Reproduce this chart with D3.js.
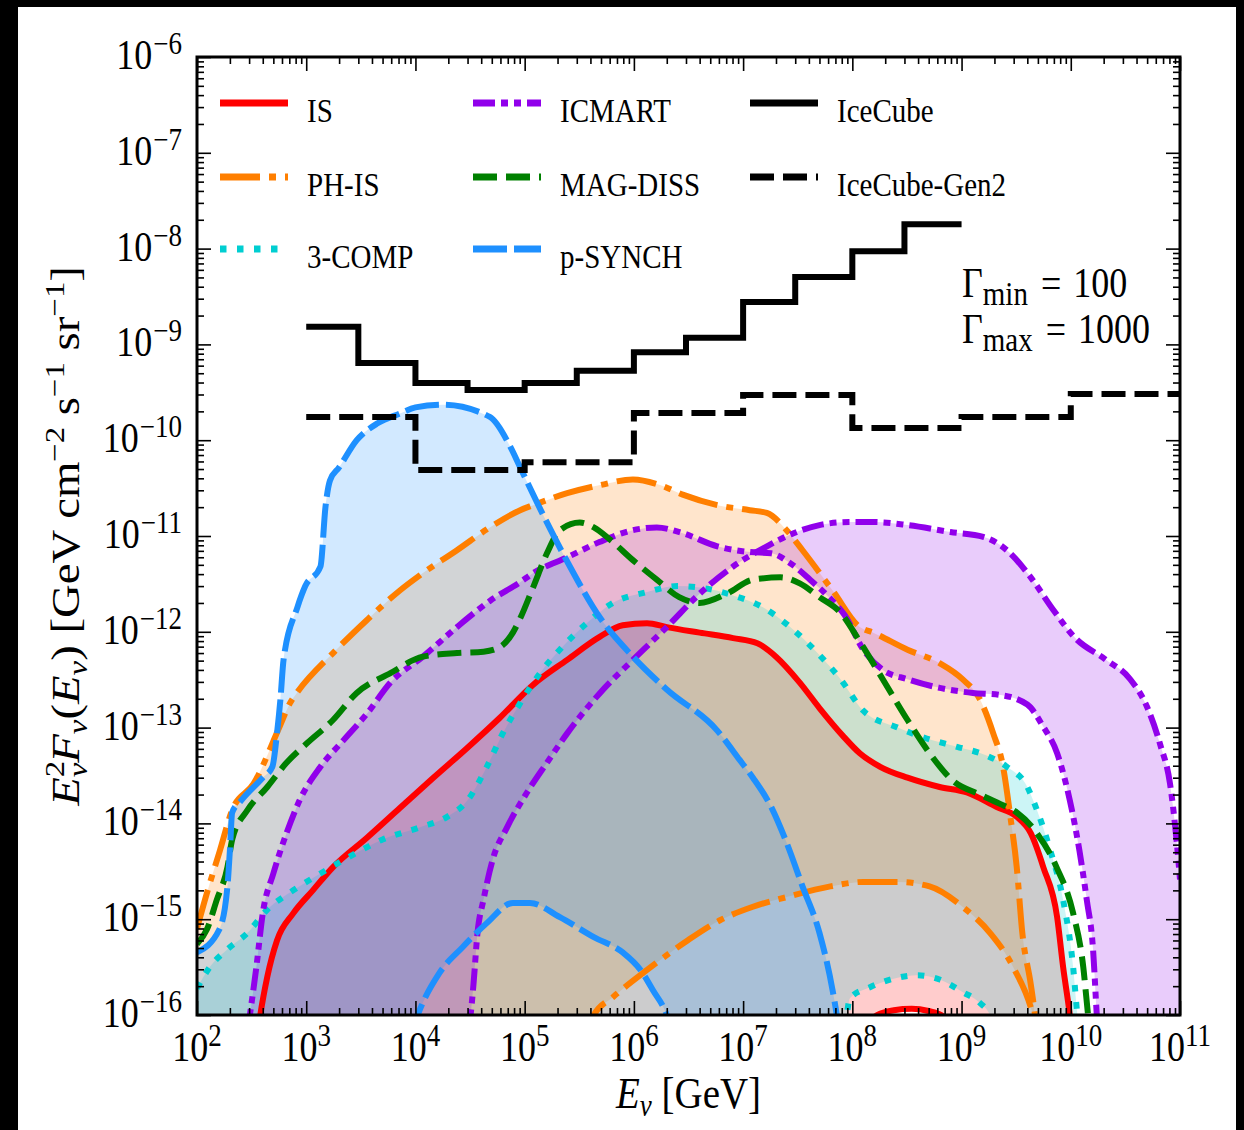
<!DOCTYPE html>
<html>
<head>
<meta charset="utf-8">
<script src="https://cdn.jsdelivr.net/npm/d3@7"></script>
<style>
  body { margin: 0; background: #000; }
  svg { display: block; }
  text { font-family: "Liberation Serif", "Times New Roman", serif; fill: #000; }
</style>
</head>
<body>
<div id="chart"></div>
<script>
// axis ranges
const xDomain = [1e2, 1e11];
const yDomain = [1e-16, 1e-6];
const xTickExp = [2, 3, 4, 5, 6, 7, 8, 9, 10, 11];
const yTickExp = [-16, -15, -14, -13, -12, -11, -10, -9, -8, -7, -6];
const minorMult = [2, 3, 4, 5, 6, 7, 8, 9];

// each curve: [E_nu (GeV), E^2 F (GeV cm^-2 s^-1 sr^-1)]
const isHigh = [[3.5e2, 5e-17], [3.8e2, 1e-16], [4.4e2, 2.5e-16], [5.4e2, 6.0e-16], [7.6e2, 1.15e-15], [1.15e3, 2.0e-15],
  [1.76e3, 3.5e-15], [3.6e3, 7.1e-15], [7.2e3, 1.45e-14], [1.45e4, 2.98e-14], [2.96e4, 6.1e-14], [5.9e4, 1.26e-13],
  [1.19e5, 2.79e-13], [2.45e5, 5.1e-13], [4.9e5, 8.9e-13], [7.9e5, 1.17e-12], [1.32e6, 1.23e-12],
  [2.0e6, 1.12e-12], [4.0e6, 9.8e-13], [8.1e6, 8.6e-13], [1.35e7, 7.6e-13], [2.0e7, 5.5e-13], [3.3e7, 2.95e-13],
  [5.0e7, 1.6e-13], [8.2e7, 8.2e-14], [1.17e8, 5.4e-14], [1.8e8, 3.9e-14], [3.2e8, 3.0e-14], [6.3e8, 2.4e-14],
  [1.12e9, 2.1e-14], [2.1e9, 1.48e-14], [3.2e9, 1.17e-14], [4.3e9, 7.9e-15], [5.6e9, 3.5e-15], [7.5e9, 1.05e-15],
  [8.5e9, 3.2e-16], [9.8e9, 1e-16], [1.05e10, 5e-17]];
const isLow = [[1.3e8, 8e-17], [1.7e8, 1e-16], [2.4e8, 1.12e-16], [3.5e8, 1.16e-16], [5e8, 1.1e-16], [6.5e8, 1e-16], [8e8, 8e-17]];

const phisHigh = [[1e2, 8e-16], [1.23e2, 1.86e-15], [1.62e2, 5.2e-15], [2.1e2, 1.38e-14], [3.3e2, 2.6e-14], [5.7e2, 1.02e-13],
  [7.1e2, 1.8e-13], [8.2e2, 2.3e-13], [1.76e3, 6.0e-13], [3.6e3, 1.33e-12], [7.2e3, 2.7e-12], [1.17e4, 4.1e-12],
  [2.4e4, 7.1e-12], [4.8e4, 1.23e-11], [9.1e4, 1.86e-11], [1.2e5, 2.1e-11], [2.45e5, 2.8e-11], [4.9e5, 3.4e-11],
  [9.8e5, 3.9e-11], [1.74e6, 3.4e-11], [2.8e6, 2.7e-11], [5.8e6, 2.1e-11], [1.15e7, 1.86e-11], [1.65e7, 1.74e-11],
  [2.5e7, 1.15e-11], [3.5e7, 7.1e-12], [6.6e7, 2.7e-12], [1.17e8, 1.12e-12], [1.55e8, 9.8e-13], [3.2e8, 6.5e-13],
  [6.3e8, 4.7e-13], [1.02e9, 3.2e-13], [1.48e9, 1.95e-13], [1.95e9, 8.7e-14], [2.4e9, 3.9e-14], [2.8e9, 1.17e-14],
  [3.2e9, 3.5e-15], [3.6e9, 7.2e-16], [4.3e9, 2.1e-16], [4.7e9, 1e-16], [5e9, 5e-17]];
const phisLow = [[3.5e5, 6e-17], [4.3e5, 1e-16], [6.5e5, 1.55e-16], [1.32e6, 2.95e-16], [3.1e6, 6.0e-16], [6.2e6, 9.8e-16],
  [1.23e7, 1.35e-15], [2.5e7, 1.7e-15], [6.3e7, 2.2e-15], [1.26e8, 2.45e-15], [2.6e8, 2.45e-15], [5.1e8, 2.2e-15],
  [1.02e9, 1.35e-15], [1.82e9, 7.2e-16], [2.95e9, 3.2e-16], [4.5e9, 1e-16], [5e9, 6e-17]];

const compHigh = [[1e2, 1.9e-16], [1.32e2, 3.2e-16], [1.88e2, 4.8e-16], [2.9e2, 7.2e-16], [4.4e2, 1.26e-15], [7.6e2, 2.0e-15],
  [1.35e3, 3.0e-15], [2.5e3, 4.5e-15], [5.0e3, 6.8e-15], [1.1e4, 9.1e-15], [1.95e4, 1.17e-14], [3.0e4, 1.74e-14],
  [4.5e4, 3.9e-14], [6.3e4, 8.7e-14], [9.1e4, 1.8e-13], [1.38e5, 3.7e-13], [2.2e5, 6.9e-13], [3.7e5, 1.23e-12],
  [6.4e5, 2.0e-12], [1.32e6, 2.6e-12], [2.5e6, 3.0e-12], [4.0e6, 2.9e-12], [8.1e6, 2.4e-12], [1.52e7, 1.8e-12],
  [2.7e7, 1.12e-12], [4.8e7, 6.0e-13], [7.8e7, 3.2e-13], [1.26e8, 1.5e-13], [2.6e8, 1.0e-13], [4.8e8, 7.7e-14],
  [9.1e8, 6.3e-14], [1.7e9, 5.1e-14], [2.6e9, 3.9e-14], [4.0e9, 2.4e-14], [4.9e9, 1.38e-14], [6.5e9, 5.2e-15],
  [8.5e9, 1.6e-15], [1.05e10, 3.2e-16], [1.15e10, 1e-16], [1.25e10, 5e-17]];
const compLow = [[8.3e7, 5e-17], [8.9e7, 1e-16], [9.5e7, 1.5e-16], [1.45e8, 1.95e-16], [2.6e8, 2.45e-16], [3.9e8, 2.6e-16],
  [6.3e8, 2.35e-16], [1.02e9, 1.74e-16], [1.48e9, 1.33e-16], [1.82e9, 1e-16], [2.1e9, 6e-17]];

const icmartLowG = [[2.8e2, 5e-17], [3.05e2, 1e-16], [3.5e2, 3.2e-16], [4.0e2, 1.15e-15], [5.0e2, 3.0e-15], [6.6e2, 7.9e-15],
  [8.7e2, 1.74e-14], [1.35e3, 3.9e-14], [2.2e3, 7.4e-14], [3.6e3, 1.4e-13], [5.9e3, 2.95e-13], [1.17e4, 5.5e-13],
  [2.4e4, 1.12e-12], [4.8e4, 2.1e-12], [9.1e4, 3.3e-12], [1.2e5, 4.1e-12], [2.45e5, 6.0e-12], [4.9e5, 8.7e-12],
  [9.8e5, 1.15e-11], [1.62e6, 1.23e-11], [2.8e6, 1.07e-11], [5.8e6, 7.8e-12], [1.15e7, 6.8e-12], [1.8e7, 6.6e-12],
  [2.7e7, 5.2e-12], [4.1e7, 3.5e-12], [6.6e7, 2.1e-12], [8.5e7, 1.5e-12], [1.26e8, 6.5e-13], [1.9e8, 4.0e-13],
  [3.2e8, 3.2e-13], [6.3e8, 2.6e-13], [1.27e9, 2.3e-13], [2.2e9, 2.2e-13], [4.0e9, 1.74e-13], [5.6e9, 1.02e-13],
  [7.5e9, 5.4e-14], [9.8e9, 1.74e-14], [1.2e10, 5.2e-15], [1.4e10, 1.6e-15], [1.6e10, 4.8e-16], [1.73e10, 1e-16],
  [1.8e10, 5e-17]];
const icmartHighG = [[2.9e4, 5e-17], [3.2e4, 1e-16], [3.4e4, 2.1e-16], [3.7e4, 7.2e-16], [4.2e4, 1.6e-15], [5.1e4, 4.2e-15],
  [6.9e4, 9.1e-15], [1.05e5, 2.1e-14], [1.6e5, 4.3e-14], [2.45e5, 8.7e-14], [4.9e5, 2.3e-13], [9.8e5, 5.1e-13],
  [2.0e6, 1.12e-12], [4.0e6, 2.5e-12], [8.1e6, 4.8e-12], [1.65e7, 7.8e-12], [2.9e7, 1.07e-11], [5.0e7, 1.3e-11],
  [9.5e7, 1.4e-11], [1.55e8, 1.4e-11], [3.2e8, 1.3e-11], [7.9e8, 1.1e-11], [1.58e9, 9.8e-12], [2.6e9, 7.1e-12],
  [4.3e9, 3.7e-12], [6.9e9, 1.7e-12], [1.1e10, 8.6e-13], [2.1e10, 5.1e-13], [3.5e10, 3.2e-13], [5.0e10, 1.64e-13],
  [6.6e10, 6.6e-14], [8.1e10, 2.6e-14], [9.6e10, 4.5e-15], [1e11, 2.6e-15]];

const magHigh = [[1e2, 5.5e-16], [1.23e2, 7.8e-16], [1.52e2, 1.6e-15], [1.9e2, 3.5e-15], [2.1e2, 6.8e-15], [2.9e2, 1.38e-14],
  [4.4e2, 2.4e-14], [6.6e2, 4.3e-14], [1.02e3, 6.9e-14], [1.76e3, 1.2e-13], [2.9e3, 2.3e-13], [5.9e3, 3.7e-13],
  [1.17e4, 5.5e-13], [2.4e4, 6.0e-13], [4.2e4, 6.2e-13], [5.9e4, 6.9e-13], [7.8e4, 9.8e-13], [9.1e4, 1.38e-12],
  [1.2e5, 2.95e-12], [1.6e5, 6.6e-12], [2.1e5, 1.15e-11], [3.2e5, 1.38e-11], [4.3e5, 1.23e-11], [6.1e5, 9.1e-12],
  [9.8e5, 5.6e-12], [1.62e6, 3.5e-12], [2.6e6, 2.3e-12], [4.0e6, 2.0e-12], [7.1e6, 2.5e-12], [1.23e7, 3.5e-12],
  [2.2e7, 3.7e-12], [3.3e7, 3.2e-12], [5.0e7, 2.3e-12], [7.8e7, 1.58e-12], [1.17e8, 7.9e-13], [1.9e8, 3.2e-13],
  [3.2e8, 1.2e-13], [5.1e8, 5.4e-14], [8.3e8, 2.8e-14], [1.48e9, 2.0e-14], [2.2e9, 1.62e-14], [3.2e9, 1.3e-14],
  [4.9e9, 7.9e-15], [7.4e9, 3.5e-15], [1.05e10, 1.16e-15], [1.3e10, 3.2e-16], [1.44e10, 1e-16], [1.55e10, 5e-17]];
const magLow = []; // second curve not visible, no band

const synchHigh = [[1e2, 4.5e-16], [1.6e2, 7.8e-16], [1.9e2, 2.2e-15], [2.0e2, 5.2e-15], [2.1e2, 1.3e-14], [2.5e2, 1.7e-14],
  [4.0e2, 3.0e-14], [4.9e2, 3.9e-14], [5.4e2, 8.7e-14], [5.8e2, 1.95e-13], [6.2e2, 5.1e-13], [8.3e2, 1.8e-12],
  [9.8e2, 3.0e-12], [1.35e3, 4.8e-12], [1.5e3, 2.0e-11], [1.65e3, 3.8e-11], [2.0e3, 5.2e-11], [2.9e3, 1.0e-10],
  [4.5e3, 1.5e-10], [7.2e3, 1.9e-10], [1.0e4, 2.2e-10], [1.8e4, 2.35e-10], [4.8e4, 1.75e-10], [7.4e4, 8.5e-11],
  [9.1e4, 5.2e-11], [1.5e5, 1.6e-11], [2.5e5, 5.2e-12], [4.9e5, 1.4e-12], [9.8e5, 5.5e-13], [2.0e6, 2.5e-13],
  [5.8e6, 9.3e-14], [9.3e6, 4.6e-14], [1.23e7, 3.0e-14], [1.8e7, 1.5e-14], [2.5e7, 6.3e-15], [3.5e7, 2.2e-15],
  [5.0e7, 7.2e-16], [6.6e7, 1.8e-16], [7.2e7, 1e-16], [7.8e7, 5e-17]];
const synchLow = [[9e3, 6e-17], [1.05e4, 1e-16], [1.66e4, 2.75e-16], [2.7e4, 5.1e-16], [4.5e4, 9.1e-16], [7.8e4, 1.48e-15],
  [1.12e5, 1.48e-15], [2.1e5, 1.05e-15], [4.3e5, 6.5e-16], [7.9e5, 4.5e-16], [1.15e6, 2.95e-16], [1.5e6, 1.8e-16],
  [2.0e6, 1e-16], [2.3e6, 6e-17]];

// sensitivity steps: bin edges and flux per bin
const iceCubeE = [1e3, 3e3, 1e4, 3e4, 1e5, 3e5, 1e6, 3e6, 1e7, 3e7, 1e8, 3e8, 1e9];
const iceCubeF = [1.53e-9, 6.4e-10, 3.95e-10, 3.34e-10, 3.95e-10, 5.3e-10, 8.3e-10, 1.17e-9, 2.77e-9, 5.06e-9, 9.4e-9, 1.8e-8];
const gen2E = [1e3, 1e4, 1e5, 1e6, 1e7, 1e8, 1e9, 1e10, 1e11];
const gen2F = [1.75e-10, 4.9e-11, 5.9e-11, 1.92e-10, 2.96e-10, 1.34e-10, 1.75e-10, 3.03e-10];

const seriesNames = ["IS", "PH-IS", "3-COMP", "ICMART", "MAG-DISS", "p-SYNCH", "IceCube", "IceCube-Gen2"];

// styling kept apart from the data
const styles = {
  "IS":           { color: "#ff0000", dash: null },
  "PH-IS":        { color: "#ff7f00", dash: "40,9,7,9" },
  "3-COMP":       { color: "#00ced1", dash: "6.5,10.5" },
  "ICMART":       { color: "#9100eb", dash: "22,6,7,6,7,6" },
  "MAG-DISS":     { color: "#008000", dash: "24,9" },
  "p-SYNCH":      { color: "#1e90ff", dash: "34,7" },
  "IceCube":      { color: "#000000", dash: null },
  "IceCube-Gen2": { color: "#000000", dash: "24,9" }
};

const models = [
  { name: "IS", curves: [isHigh, isLow], band: true },
  { name: "PH-IS", curves: [phisHigh, phisLow], band: true },
  { name: "3-COMP", curves: [compHigh, compLow], band: true },
  { name: "ICMART", curves: [icmartLowG, icmartHighG], band: true },
  { name: "MAG-DISS", curves: [magHigh, magLow], band: false },
  { name: "p-SYNCH", curves: [synchHigh, synchLow], band: true }
];

const W = 1244, H = 1130;
const plotL = 197, plotR = 1180, plotT = 57, plotB = 1015;
const stretch = 1.15;

const svg = d3.select("#chart").append("svg").attr("width", W).attr("height", H);
svg.append("rect").attr("width", W).attr("height", H).attr("fill", "#000");
svg.append("rect").attr("x", 18).attr("y", 7).attr("width", 1218).attr("height", H - 7).attr("fill", "#fff");

const x = d3.scaleLog().domain(xDomain).range([plotL, plotR]);
const y = d3.scaleLog().domain(yDomain).range([plotB, plotT]);

svg.append("defs").append("clipPath").attr("id", "plot-clip")
   .append("rect").attr("x", plotL).attr("y", plotT)
   .attr("width", plotR - plotL).attr("height", plotB - plotT);

const plot = svg.append("g").attr("clip-path", "url(#plot-clip)");

const line = d3.line()
               .x(d => x(d[0]))
               .y(d => y(d[1]))
               .curve(d3.curveMonotoneX);

// pad a curve down to far below the axis so a band can close on it
const floorVal = 1e-18;
function padCurve(c) {
    if (c.length === 0) return [[xDomain[0], floorVal], [xDomain[1], floorVal]];
    const out = c.slice();
    if (out[0][0] > xDomain[0]) out.unshift([xDomain[0], floorVal]);
    if (out[out.length - 1][0] < xDomain[1]) out.push([xDomain[1], floorVal]);
    return out;
}

// bands first
models.filter(m => m.band).forEach(m => {
    const a = padCurve(m.curves[0]);
    const b = padCurve(m.curves[1]).reverse();
    plot.append("path")
        .attr("d", line(a) + line(b).replace(/^M/, "L") + "Z")
        .attr("fill", styles[m.name].color)
        .attr("fill-opacity", 0.2)
        .attr("stroke", "none");
});

// model curves on top
models.forEach(m => {
    const st = styles[m.name];
    m.curves.filter(c => c.length > 0).forEach(c => {
        plot.append("path")
            .attr("d", line(c))
            .attr("fill", "none")
            .attr("stroke", st.color)
            .attr("stroke-width", 6)
            .attr("stroke-dasharray", st.dash)
            .attr("stroke-linejoin", "round");
    });
});

// detector sensitivities (step lines)
const step = d3.line().x(d => x(d[0])).y(d => y(d[1])).curve(d3.curveStepAfter);
function stepPoints(edges, flux) {
    const pts = flux.map((f, i) => [edges[i], f]);
    pts.push([edges[edges.length - 1], flux[flux.length - 1]]);
    return pts;
}
[["IceCube", iceCubeE, iceCubeF], ["IceCube-Gen2", gen2E, gen2F]].forEach(([name, e, f]) => {
    plot.append("path")
        .attr("d", step(stepPoints(e, f)))
        .attr("fill", "none")
        .attr("stroke", styles[name].color)
        .attr("stroke-width", 6)
        .attr("stroke-dasharray", styles[name].dash);
});

// ticks on all four sides, pointing inward
const xMajor = xTickExp.map(k => Math.pow(10, k));
const yMajor = yTickExp.map(k => Math.pow(10, k));
const xMinor = [], yMinor = [];
xTickExp.slice(0, -1).forEach(k => minorMult.forEach(m => xMinor.push(m * Math.pow(10, k))));
yTickExp.slice(0, -1).forEach(k => minorMult.forEach(m => yMinor.push(m * Math.pow(10, k))));

function tickGroup(axis, tx, ty) {
    const g = svg.append("g").attr("transform", `translate(${tx},${ty})`).call(axis);
    g.select(".domain").remove();
    g.selectAll(".tick line").attr("stroke", "#000").attr("stroke-width", 1.6);
    g.selectAll(".tick text").remove();
}
[[xMajor, 14], [xMinor, 7]].forEach(([vals, len]) => {
    tickGroup(d3.axisBottom(x).tickValues(vals).tickSize(-len).tickFormat(""), 0, plotB);
    tickGroup(d3.axisTop(x).tickValues(vals).tickSize(-len).tickFormat(""), 0, plotT);
});
[[yMajor, 14], [yMinor, 7]].forEach(([vals, len]) => {
    tickGroup(d3.axisLeft(y).tickValues(vals).tickSize(-len).tickFormat(""), plotL, 0);
    tickGroup(d3.axisRight(y).tickValues(vals).tickSize(-len).tickFormat(""), plotR, 0);
});

svg.append("rect")
   .attr("x", plotL).attr("y", plotT)
   .attr("width", plotR - plotL).attr("height", plotB - plotT)
   .attr("fill", "none").attr("stroke", "#000").attr("stroke-width", 3);

// rich text helper: parts with absolute baseline shift
function richText(sel, parts) {
    let prev = 0;
    parts.forEach(p => {
        const shift = p.shift || 0;
        const ts = sel.append("tspan").text(p.t);
        if (shift !== prev) ts.attr("dy", shift - prev);
        if (p.dx) ts.attr("dx", p.dx);
        if (p.size) ts.style("font-size", p.size + "px");
        if (p.italic) ts.style("font-style", "italic");
        prev = shift;
    });
    return sel;
}
const sup = k => String(k).replace("-", "\u2212");

// tick labels
xTickExp.forEach(k => {
    const t = svg.append("text")
                 .attr("transform", `translate(${x(Math.pow(10, k))},1061) scale(1,${stretch})`)
                 .attr("text-anchor", "middle")
                 .style("font-size", "36px");
    richText(t, [{ t: "10" }, { t: sup(k), size: 27, shift: -13 }]);
});
yTickExp.forEach(k => {
    const t = svg.append("text")
                 .attr("transform", `translate(182,${y(Math.pow(10, k)) + 12}) scale(1,${stretch})`)
                 .attr("text-anchor", "end")
                 .style("font-size", "36px");
    richText(t, [{ t: "10" }, { t: sup(k), size: 27, shift: -13, dx: 1 }]);
});

// axis titles
const xt = svg.append("text")
              .attr("transform", `translate(${(plotL + plotR) / 2},1108) scale(1,${stretch})`)
              .attr("text-anchor", "middle")
              .style("font-size", "39px");
richText(xt, [{ t: "E", italic: true }, { t: "ν", italic: true, size: 27, shift: 7 }, { t: " [GeV]" }]);

const yt = svg.append("text")
              .attr("transform", `translate(79,${(plotT + plotB) / 2}) rotate(-90) scale(1.17,1)`)
              .attr("text-anchor", "middle")
              .style("font-size", "40px");
richText(yt, [
    { t: "E", italic: true },
    { t: "2", size: 28, shift: -15 },
    { t: "ν", italic: true, size: 28, shift: 8, dx: -14 },
    { t: "F", italic: true },
    { t: "ν", italic: true, size: 28, shift: 8 },
    { t: "(" },
    { t: "E", italic: true },
    { t: "ν", italic: true, size: 28, shift: 8 },
    { t: ") [GeV cm" },
    { t: "−2", size: 28, shift: -15 },
    { t: " s" },
    { t: "−1", size: 28, shift: -15 },
    { t: " sr" },
    { t: "−1", size: 28, shift: -15 },
    { t: "]" }
]);

// legend, three columns filled top to bottom
const legCols = [220, 473, 750];
const legRows = [103, 177, 249];
seriesNames.forEach((name, i) => {
    const cx = legCols[Math.floor(i / 3)], cy = legRows[i % 3];
    const st = styles[name];
    svg.append("line")
       .attr("x1", cx).attr("x2", cx + 68).attr("y1", cy).attr("y2", cy)
       .attr("stroke", st.color).attr("stroke-width", 7)
       .attr("stroke-dasharray", st.dash);
    svg.append("text")
       .attr("transform", `translate(${cx + 87},${cy + 19}) scale(1,${stretch})`)
       .style("font-size", "29px")
       .text(name);
});

// Lorentz factor range note
[["min", "100", 297], ["max", "1000", 343]].forEach(([sub, val, by]) => {
    const t = svg.append("text")
                 .attr("transform", `translate(962,${by}) scale(1,${stretch})`)
                 .style("font-size", "36px");
    richText(t, [{ t: "Γ" }, { t: sub, size: 29, shift: 7 }, { t: "=", dx: 13 }, { t: val, dx: 12 }]);
});
</script>
</body>
</html>
